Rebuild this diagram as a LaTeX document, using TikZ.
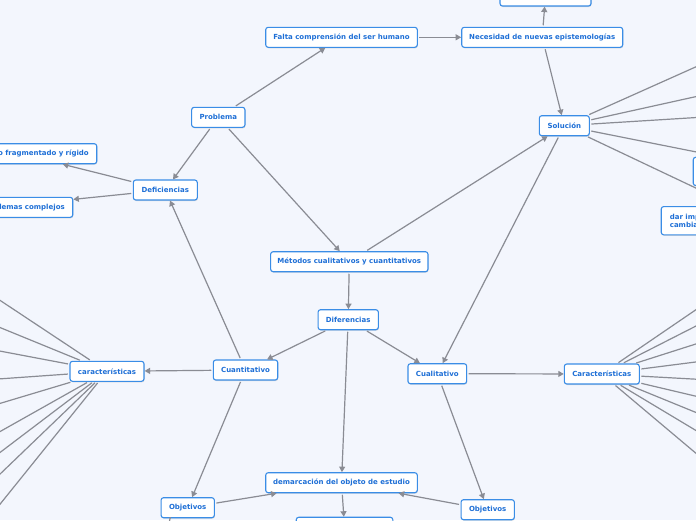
\documentclass[tikz,border=0pt]{standalone}
\usepackage{fontspec}
\setmainfont{DejaVu Sans}
\usetikzlibrary{arrows.meta,shadows}
\definecolor{bgc}{HTML}{F3F6FD}
\definecolor{bordc}{HTML}{3A8DE6}
\definecolor{txtc}{HTML}{1E6FD6}
\definecolor{linec}{HTML}{8A8C94}
\begin{document}
\begin{tikzpicture}[x={(1pt,0)},y={(0,-1pt)},
 box/.style={draw=bordc, line width=1.1pt, fill=white, rounded corners=2.5pt, text=txtc,
   font=\bfseries\fontsize{7}{8.6}\selectfont, minimum height=20pt, inner xsep=3pt, inner ysep=2pt,
   drop shadow={shadow xshift=0.5pt, shadow yshift=-1pt, opacity=0.22, fill=black!60}},
 conn/.style={draw=linec, line width=1.2pt, -{Triangle[length=5.5pt,width=6pt]}, shorten <=1.5pt},
 leg/.style={draw=linec, line width=1.2pt, shorten <=1.5pt}]
\fill[bgc] (0,0) rectangle (696,520);
\useasboundingbox (0,0) rectangle (696,520);
\clip (0,0) rectangle (696,520);

\node[box,minimum width=53.3pt] (prob) at (218.3,117.3) {Problema};
\node[box,minimum width=151.6pt] (falta) at (341.5,37.3) {Falta comprensión del ser humano};
\node[box,minimum width=161pt] (nec) at (542.2,37.3) {Necesidad de nuevas epistemologías};
\node[box,minimum width=91pt] (topb) at (545.5,-4) {};
\node[box,minimum width=50pt] (sol) at (564.3,125.7) {Solución};
\node[box,minimum width=157.3pt] (met) at (349.3,261.7) {Métodos cualitativos y cuantitativos};
\node[box,minimum width=60.3pt] (dif) at (348.2,319.7) {Diferencias};
\node[box,minimum width=64.4pt] (cuan) at (245.5,370) {Cuantitativo};
\node[box,minimum width=58.7pt] (cual) at (437.3,373.7) {Cualitativo};
\node[box,minimum width=64pt] (defi) at (165.3,190) {Deficiencias};
\node[box,text width=136pt,align=right,inner xsep=8pt,anchor=east] (frag) at (97.3,153.7) {o fragmentado y rígido};
\node[box,text width=139.6pt,align=right,inner xsep=8pt,anchor=east] (lemas) at (73.3,207.3) {lemas complejos};
\node[box,minimum width=74pt] (carL) at (107,371.3) {características};
\node[box,minimum width=75pt] (carR) at (601.8,374) {Características};
\node[box,minimum width=151.6pt] (dem) at (341.5,482.7) {demarcación del objeto de estudio};
\node[box,minimum width=53.3pt] (objL) at (187.7,507.7) {Objetivos};
\node[box,minimum width=53.3pt] (objR) at (487.7,509.7) {Objetivos};
\node[box,minimum width=96.6pt,anchor=north west] (bot) at (295.7,516.7) {};
\node[box,minimum width=60pt,minimum height=28.3pt,anchor=north west] (rpart) at (692.7,156.7) {};
\node[box,minimum height=28.3pt,align=left,inner xsep=8.6pt,anchor=north west] (dar) at (660.7,206) {dar imp\\cambia};

% main connectors
\draw[conn] (prob) -- (falta);
\draw[conn] (falta) -- (nec);
\draw[conn] (nec) -- (topb);
\draw[conn] (nec) -- (sol);
\draw[conn] (prob) -- (defi);
\draw[conn] (prob) -- (met);
\draw[conn] (met) -- (sol);
\draw[conn] (sol) -- (cual);
\draw[conn] (defi) -- (frag);
\draw[conn] (defi) -- (lemas);
\draw[conn] (cuan) -- (defi);
\draw[conn] (met) -- (dif);
\draw[conn] (dif) -- (cuan);
\draw[conn] (dif) -- (cual);
\draw[conn] (dif) -- (dem);
\draw[conn] (cuan) -- (carL);
\draw[conn] (cual) -- (carR);
\draw[conn] (cuan) -- (objL);
\draw[conn] (cual) -- (objR);
\draw[conn] (objL) -- (dem);
\draw[conn] (objR) -- (dem);
\draw[conn] (dem) -- (bot);

% connectors leaving the picture
\coordinate (objLa) at (170.3,517.2);
\coordinate (objLb) at (168.5,526);
\draw[leg,shorten <=0pt] (objLa) -- (objLb);

\foreach \yy [count=\i] in {65,95.7,117.3,152.7,190}{
  \coordinate (so\i) at (700,\yy);
  \draw[leg] (sol) -- (so\i);
}
\foreach \yy [count=\i] in {299,326.7,350.7,379,404,432.7,454,476,506.7}{
  \coordinate (cl\i) at (-2,\yy);
  \draw[leg] (carL) -- (cl\i);
}
\foreach \yy [count=\i] in {308.3,325,343.3,361.7,379.3,396.7,413.3,431.7,455}{
  \coordinate (cr\i) at (698,\yy);
  \draw[leg] (carR) -- (cr\i);
}
\end{tikzpicture}
\end{document}
